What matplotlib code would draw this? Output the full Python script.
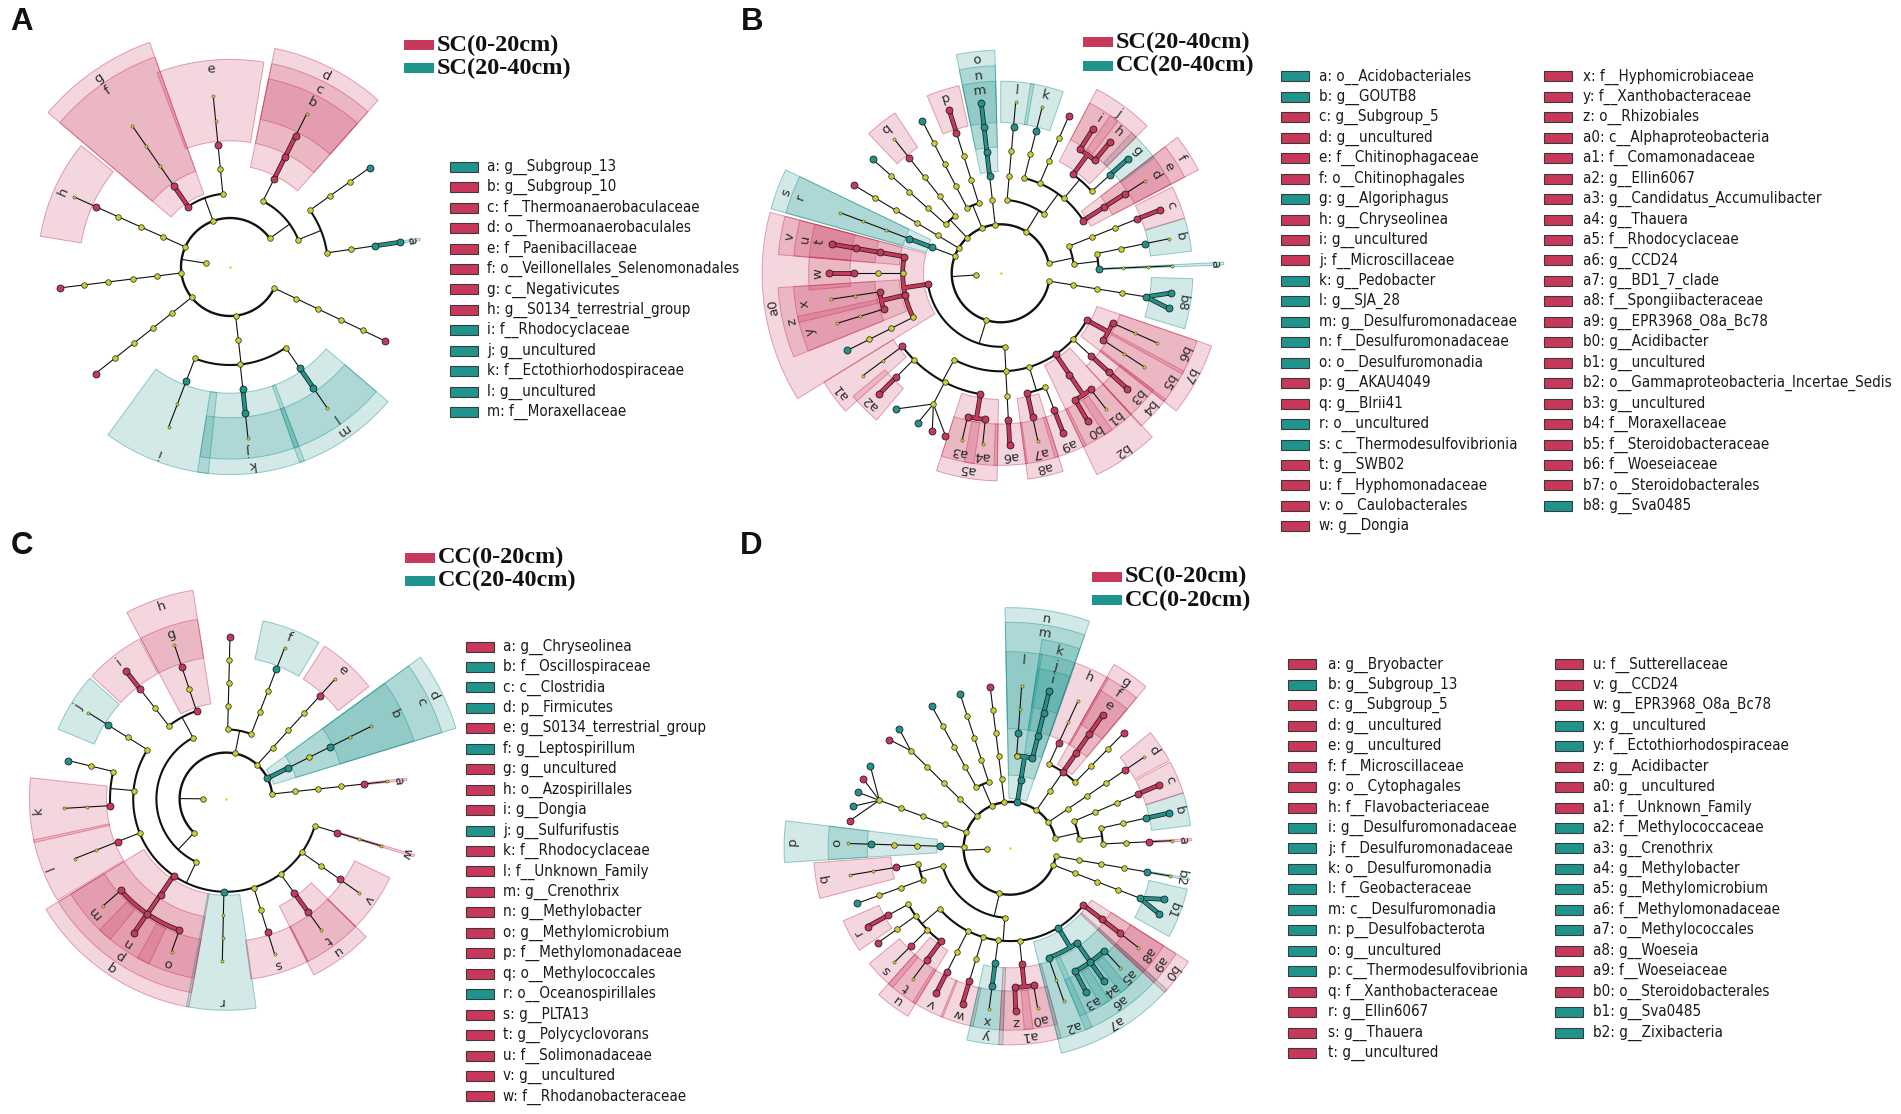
import numpy as np
import matplotlib
matplotlib.use("Agg")
import matplotlib.pyplot as plt
from matplotlib.patches import Polygon, Rectangle
from matplotlib.colors import to_rgb
from matplotlib.font_manager import FontProperties

RED = "#C8385A"
TEAL = "#1F948D"
YELLOW = "#CFCF2A"
COLS = {"r": RED, "g": TEAL, "y": YELLOW}

# ---------------- data ----------------
# leaves: (angle in degrees, path phylum.class.order.family.genus.species, colour per level)
A_groups = ["SC(0-20cm)", "SC(20-40cm)"]
A_leaves = [
    (8.3, "1.1.1.1.1.1", "yyyygg"), (35.4, "1.1.2.1.1.1", "yyyyyg"),
    (63.4, "1.2.1.1.1.1", "yyrrry"), (95.6, "2.1.1.1.1.1", "yyyryy"),
    (124.7, "2.2.1.1.1.1", "yrryyy"), (155.8, "3.1.1.1.1.1", "yyyyry"),
    (187.0, "4.1.1.1.1.1", "yyyyyr"), (218.4, "5.1.1.1.1.1", "yyyyyr"),
    (249.0, "6.1.1.1.1.1", "yyygyy"), (276.0, "6.1.2.1.1.1", "yyyggy"),
    (304.6, "6.1.3.1.1.1", "yyyggy"), (334.5, "7.1.1.1.1.1", "yyyyyr"),
]
A_labels = {"a": "1.1.1.1.1", "b": "1.2.1.1.1", "c": "1.2.1.1", "d": "1.2.1",
            "e": "2.1.1.1", "f": "2.2.1", "g": "2.2", "h": "3.1.1.1.1",
            "i": "6.1.1.1", "j": "6.1.2.1.1", "k": "6.1.2.1", "l": "6.1.3.1.1",
            "m": "6.1.3.1"}
A_names = ["a: g__Subgroup_13", "b: g__Subgroup_10", "c: f__Thermoanaerobaculaceae",
           "d: o__Thermoanaerobaculales", "e: f__Paenibacillaceae",
           "f: o__Veillonellales_Selenomonadales", "g: c__Negativicutes",
           "h: g__S0134_terrestrial_group", "i: f__Rhodocyclaceae", "j: g__uncultured",
           "k: f__Ectothiorhodospiraceae", "l: g__uncultured", "m: f__Moraxellaceae"]

B_groups = ["SC(20-40cm)", "CC(20-40cm)"]
B_leaves = [
    (2.5, "1.1.1.1.1.1", "yygyyy"), (11.6, "1.1.2.1.1.1", "yyyygy"),
    (21.7, "1.2.1.1.1.1", "yyyyrr"), (32.6, "2.1.1.1.1.1", "yyrrry"),
    (42.0, "2.1.2.1.1.1", "yyyygg"), (50.2, "2.1.2.2.1.1", "yyyrrr"),
    (57.4, "2.1.2.2.2.1", "yyyrrr"), (66.6, "2.1.3.1.1.1", "yyyyyr"),
    (76.0, "2.1.4.1.1.1", "yyyygy"), (85.0, "2.2.1.1.1.1", "yyyygy"),
    (96.5, "3.1.1.1.1.1", "yygggg"), (107.5, "4.1.1.1.1.1", "yyyyrr"),
    (117.2, "4.2.1.1.1.1", "yyyyyg"), (128.4, "5.1.1.1.1.1", "yyyyry"),
    (138.3, "5.2.1.1.1.1", "yyyyyg"), (149.0, "6.1.1.1.1.1", "yyyyyr"),
    (159.3, "7.1.1.1.1.1", "yggyyy"), (170.2, "8.1.1.1.1.1", "yrrrrr"),
    (180.0, "8.1.2.1.1.1", "yryyrr"), (188.7, "8.1.3.1.1.1", "yrrryy"),
    (197.0, "8.1.3.2.1.1", "yrrryy"), (206.7, "8.1.4.1.1.1", "yryyyg"),
    (216.6, "8.2.1.1.1.1", "yyyryy"), (224.8, "8.2.1.2.1.1", "yyyyrr"),
    (232.3, "8.2.1.3.1.1", "yyyyyg"), (241.0, "8.2.1.3.1.2", "yyyyyg"),
    (246.5, "8.2.1.3.1.3", "yyyyyr"), (251.2, "8.2.1.3.1.4", "yyyyyr"),
    (257.0, "8.2.1.4.1.1", "yyyrry"), (264.0, "8.2.1.4.2.1", "yyyrry"),
    (273.0, "8.2.2.1.1.1", "yyyyrr"), (282.5, "8.2.3.1.1.1", "yyyrry"),
    (291.4, "8.2.3.2.1.1", "yyyyrr"), (300.5, "8.2.4.1.1.1", "yyrrrr"),
    (307.8, "8.2.4.1.2.1", "yyrrry"), (317.6, "8.2.5.1.1.1", "yyyrrr"),
    (326.9, "8.2.6.1.1.1", "yyrryy"), (336.0, "8.2.6.2.1.1", "yyrryy"),
    (348.2, "9.1.1.1.1.1", "yyyygg"), (353.4, "9.1.1.1.1.2", "yyyygg"),
]
B_labels = {"a": "1.1.1", "b": "1.1.2.1.1", "c": "1.2.1.1.1", "d": "2.1.1.1.1",
            "e": "2.1.1.1", "f": "2.1.1", "g": "2.1.2.1.1", "h": "2.1.2.2.1",
            "i": "2.1.2.2.2", "j": "2.1.2.2", "k": "2.1.4.1.1", "l": "2.2.1.1.1",
            "m": "3.1.1.1.1", "n": "3.1.1.1", "o": "3.1.1", "p": "4.1.1.1.1",
            "q": "5.1.1.1.1", "r": "7.1.1", "s": "7.1", "t": "8.1.1.1.1",
            "u": "8.1.1.1", "v": "8.1.1", "w": "8.1.2.1.1", "x": "8.1.3.1",
            "y": "8.1.3.2", "z": "8.1.3", "a0": "8.1", "a1": "8.2.1.1",
            "a2": "8.2.1.2.1", "a3": "8.2.1.4.1", "a4": "8.2.1.4.2", "a5": "8.2.1.4",
            "a6": "8.2.2.1.1", "a7": "8.2.3.1.1", "a8": "8.2.3.1", "a9": "8.2.3.2.1",
            "b0": "8.2.4.1.1", "b1": "8.2.4.1.2", "b2": "8.2.4", "b3": "8.2.5.1.1",
            "b4": "8.2.5.1", "b5": "8.2.6.1", "b6": "8.2.6.2", "b7": "8.2.6",
            "b8": "9.1.1.1.1"}
B_names1 = ["a: o__Acidobacteriales", "b: g__GOUTB8", "c: g__Subgroup_5", "d: g__uncultured",
            "e: f__Chitinophagaceae", "f: o__Chitinophagales", "g: g__Algoriphagus",
            "h: g__Chryseolinea", "i: g__uncultured", "j: f__Microscillaceae",
            "k: g__Pedobacter", "l: g__SJA_28", "m: g__Desulfuromonadaceae",
            "n: f__Desulfuromonadaceae", "o: o__Desulfuromonadia", "p: g__AKAU4049",
            "q: g__Blrii41", "r: o__uncultured", "s: c__Thermodesulfovibrionia",
            "t: g__SWB02", "u: f__Hyphomonadaceae", "v: o__Caulobacterales", "w: g__Dongia"]
B_names2 = ["x: f__Hyphomicrobiaceae", "y: f__Xanthobacteraceae", "z: o__Rhizobiales",
            "a0: c__Alphaproteobacteria", "a1: f__Comamonadaceae", "a2: g__Ellin6067",
            "a3: g__Candidatus_Accumulibacter", "a4: g__Thauera", "a5: f__Rhodocyclaceae",
            "a6: g__CCD24", "a7: g__BD1_7_clade", "a8: f__Spongiibacteraceae",
            "a9: g__EPR3968_O8a_Bc78", "b0: g__Acidibacter", "b1: g__uncultured",
            "b2: o__Gammaproteobacteria_Incertae_Sedis", "b3: g__uncultured",
            "b4: f__Moraxellaceae", "b5: f__Steroidobacteraceae", "b6: f__Woeseiaceae",
            "b7: o__Steroidobacterales", "b8: g__Sva0485"]

C_groups = ["CC(0-20cm)", "CC(20-40cm)"]
C_leaves = [
    (6.2, "1.1.1.1.1.1", "yyyyry"), (26.6, "2.1.1.1.1.1", "ggygyy"),
    (47.7, "3.1.1.1.1.1", "yyyyry"), (68.8, "4.1.1.1.1.1", "yyyygy"),
    (88.6, "4.2.1.1.1.1", "yyyyyr"), (108.5, "5.1.1.1.1.1", "yyryry"),
    (128.0, "5.1.2.1.1.1", "yyyyrr"), (147.9, "5.2.1.1.1.1", "yyyygy"),
    (166.3, "5.2.2.1.1.1", "yyyyyg"), (183.3, "5.2.2.2.1.1", "yyyryy"),
    (201.5, "5.2.3.1.1.1", "yyyryy"), (221.0, "5.2.4.1.1.1", "yyrrry"),
    (235.5, "5.2.4.1.2.1", "yyrrrr"), (250.4, "5.2.4.1.3.1", "yyrrry"),
    (268.7, "5.2.5.1.1.1", "yygyyy"), (287.4, "5.2.6.1.1.1", "yyyyry"),
    (306.0, "5.2.7.1.1.1", "yyyrry"), (324.8, "5.2.8.1.1.1", "yyyyry"),
    (343.2, "5.2.9.1.1.1", "yyyryy"),
]
C_labels = {"a": "1.1.1.1.1", "b": "2.1.1.1", "c": "2.1", "d": "2", "e": "3.1.1.1.1",
            "f": "4.1.1.1.1", "g": "5.1.1.1.1", "h": "5.1.1", "i": "5.1.2.1.1",
            "j": "5.2.1.1.1", "k": "5.2.2.2", "l": "5.2.3.1", "m": "5.2.4.1.1",
            "n": "5.2.4.1.2", "o": "5.2.4.1.3", "p": "5.2.4.1", "q": "5.2.4",
            "r": "5.2.5", "s": "5.2.6.1.1", "t": "5.2.7.1.1", "u": "5.2.7.1",
            "v": "5.2.8.1.1", "w": "5.2.9.1"}
C_names = ["a: g__Chryseolinea", "b: f__Oscillospiraceae", "c: c__Clostridia",
           "d: p__Firmicutes", "e: g__S0134_terrestrial_group", "f: g__Leptospirillum",
           "g: g__uncultured", "h: o__Azospirillales", "i: g__Dongia", "j: g__Sulfurifustis",
           "k: f__Rhodocyclaceae", "l: f__Unknown_Family", "m: g__Crenothrix",
           "n: g__Methylobacter", "o: g__Methylomicrobium", "p: f__Methylomonadaceae",
           "q: o__Methylococcales", "r: o__Oceanospirillales", "s: g__PLTA13",
           "t: g__Polycyclovorans", "u: f__Solimonadaceae", "v: g__uncultured",
           "w: f__Rhodanobacteraceae"]

D_groups = ["SC(0-20cm)", "CC(0-20cm)"]
D_leaves = [
    (2.7, "1.1.1.1.1.1", "yyyyry"), (12.5, "1.1.2.1.1.1", "yyyygg"),
    (23.0, "1.2.1.1.1.1", "yyyyrr"), (34.2, "2.1.1.1.1.1", "yyyyry"),
    (45.4, "3.1.1.1.1.1", "yyyyyr"), (55.2, "3.1.2.1.1.1", "yyrrrr"),
    (65.2, "3.1.3.1.1.1", "yyyryy"), (76.0, "4.1.1.1.1.1", "gggggg"),
    (85.9, "4.1.2.1.1.1", "ggygyy"), (97.0, "5.1.1.1.1.1", "yyyyyr"),
    (107.9, "6.1.1.1.1.1", "yyyyyg"), (118.8, "6.2.1.1.1.1", "yyyyyg"),
    (132.9, "7.1.1.1.1.1", "yyyyyg"), (138.0, "7.1.1.1.1.2", "yyyyyr"),
    (149.4, "8.1.1.1.1.1", "yyyyyg"), (154.7, "8.1.1.1.1.2", "yyyyyr"),
    (159.8, "8.1.1.1.1.3", "yyyyyg"), (165.0, "8.1.1.1.1.4", "yyyyyg"),
    (170.2, "8.1.1.1.1.5", "yyyyyr"), (178.3, "9.1.1.1.1.1", "ygyygy"),
    (189.5, "10.1.1.1.1.1", "yyyryy"), (199.8, "10.1.2.1.1.1", "yyyyyg"),
    (208.8, "10.2.1.1.1.1", "yyyyrr"), (215.6, "10.2.1.2.1.1", "yyyyyr"),
    (224.6, "10.2.1.3.1.1", "yyyyry"), (233.4, "10.2.1.4.1.1", "yyyrry"),
    (243.0, "10.2.2.1.1.1", "yyyyrr"), (253.0, "10.2.3.1.1.1", "yyyyrr"),
    (262.6, "10.2.4.1.1.1", "yyyggy"), (272.0, "10.2.5.1.1.1", "yyyrrr"),
    (279.8, "10.2.5.1.2.1", "yyyrry"), (289.4, "10.2.6.1.1.1", "yyggyy"),
    (297.9, "10.2.6.2.1.1", "yygggg"), (305.3, "10.2.6.2.2.1", "yygggg"),
    (312.7, "10.2.6.2.3.1", "yygggy"), (322.3, "10.2.7.1.1.1", "yyrrry"),
    (336.3, "11.1.1.1.1.1", "yyyygg"), (341.7, "11.1.1.1.1.2", "yyyygg"),
    (350.2, "12.1.1.1.1.1", "yyyygy"),
]
D_labels = {"a": "1.1.1.1.1", "b": "1.1.2.1.1", "c": "1.2.1.1.1", "d": "2.1.1.1.1",
            "e": "3.1.2.1.1", "f": "3.1.2.1", "g": "3.1.2", "h": "3.1.3.1",
            "i": "4.1.1.1.1", "j": "4.1.1.1", "k": "4.1.1", "l": "4.1.2.1", "m": "4.1",
            "n": "4", "o": "9.1.1.1.1", "p": "9.1", "q": "10.1.1.1", "r": "10.2.1.1.1",
            "s": "10.2.1.3.1", "t": "10.2.1.4.1", "u": "10.2.1.4", "v": "10.2.2.1.1",
            "w": "10.2.3.1.1", "x": "10.2.4.1.1", "y": "10.2.4.1", "z": "10.2.5.1.1",
            "a0": "10.2.5.1.2", "a1": "10.2.5.1", "a2": "10.2.6.1", "a3": "10.2.6.2.1",
            "a4": "10.2.6.2.2", "a5": "10.2.6.2.3", "a6": "10.2.6.2", "a7": "10.2.6",
            "a8": "10.2.7.1.1", "a9": "10.2.7.1", "b0": "10.2.7", "b1": "11.1.1.1.1",
            "b2": "12.1.1.1.1"}
D_names1 = ["a: g__Bryobacter", "b: g__Subgroup_13", "c: g__Subgroup_5", "d: g__uncultured",
            "e: g__uncultured", "f: f__Microscillaceae", "g: o__Cytophagales",
            "h: f__Flavobacteriaceae", "i: g__Desulfuromonadaceae", "j: f__Desulfuromonadaceae",
            "k: o__Desulfuromonadia", "l: f__Geobacteraceae", "m: c__Desulfuromonadia",
            "n: p__Desulfobacterota", "o: g__uncultured", "p: c__Thermodesulfovibrionia",
            "q: f__Xanthobacteraceae", "r: g__Ellin6067", "s: g__Thauera", "t: g__uncultured"]
D_names2 = ["u: f__Sutterellaceae", "v: g__CCD24", "w: g__EPR3968_O8a_Bc78", "x: g__uncultured",
            "y: f__Ectothiorhodospiraceae", "z: g__Acidibacter", "a0: g__uncultured",
            "a1: f__Unknown_Family", "a2: f__Methylococcaceae", "a3: g__Crenothrix",
            "a4: g__Methylobacter", "a5: g__Methylomicrobium", "a6: f__Methylomonadaceae",
            "a7: o__Methylococcales", "a8: g__Woseia".replace("Woseia", "Woeseia"),
            "a9: f__Woeseiaceae", "b0: o__Steroidobacterales", "b1: g__Sva0485",
            "b2: g__Zixibacteria"]

# ---------------- drawing helpers ----------------
def build(leaves):
    nodes = {"": dict(level=0, color="y", angs=[], kids=[])}
    for ang, path, cols in leaves:
        parts = path.split(".")
        nodes[""]["angs"].append(ang)
        parent = ""
        for i, c in enumerate(cols):
            key = ".".join(parts[:i + 1])
            if key not in nodes:
                nodes[key] = dict(level=i + 1, color="y", angs=[], kids=[])
                nodes[parent]["kids"].append(key)
            nodes[key]["angs"].append(ang)
            if c != "y":
                nodes[key]["color"] = c
            parent = key
    for nd in nodes.values():
        nd["ang"] = float(np.mean(nd["angs"]))
    return nodes


def xy(cx, cy, r, a):
    t = np.radians(a)
    return cx + r * np.cos(t), cy - r * np.sin(t)


def arc(cx, cy, r, a1, a2):
    t = np.linspace(a1, a2, max(2, int(abs(a2 - a1) * 2) + 2))
    return xy(cx, cy, r, t)


def sector(cx, cy, r1, r2, a1, a2):
    xo, yo = arc(cx, cy, r2, a1, a2)
    xi, yi = arc(cx, cy, r1, a2, a1)
    return np.column_stack([np.r_[xo, xi], np.r_[yo, yi]])


def stroke(ax, xs, ys, color, lw):
    if color is None:
        ax.plot(xs, ys, color="#111111", lw=lw, zorder=3, solid_capstyle="round")
    else:
        ax.plot(xs, ys, color="#2a1a1a", lw=3.4, zorder=3.1, solid_capstyle="round")
        ax.plot(xs, ys, color=COLS[color], lw=2.3, zorder=3.2, solid_capstyle="round")


def draw_tree(ax, nodes, labels, cx, cy, s, pad, thin):
    R = lambda L: s * (L + 1)
    # shaded clades
    for let, key in labels.items():
        nd = nodes[key]
        L = nd["level"]
        rgb = to_rgb(COLS[nd["color"]])
        if let in thin:
            a1, a2 = nd["ang"] - 0.35, nd["ang"] + 0.35
        else:
            a1, a2 = min(nd["angs"]) - pad, max(nd["angs"]) + pad
        r_in = R(L) + 0.15 * s
        r_out = s * (7.84 + (5 - L) * 0.633)
        ax.add_patch(Polygon(sector(cx, cy, r_in, r_out, a1, a2), closed=True,
                             fc=rgb + (0.2,), ec=rgb + (0.45,), lw=0.7, zorder=1))
        am = 0.5 * (a1 + a2)
        lx, ly = xy(cx, cy, r_out - 0.36 * s, am)
        ax.text(lx, ly, let, rotation=am - 90, rotation_mode="anchor", ha="center",
                va="center", fontsize=9.5, color="#2a2a2a", zorder=6)
    # branches
    for key, nd in nodes.items():
        kids = nd["kids"]
        if not kids:
            continue
        L = nd["level"]
        pc = nd["color"] if nd["color"] != "y" else None
        p0 = xy(cx, cy, R(L), nd["ang"])
        if len(kids) == 1 or L + 1 == 6:
            for k in kids:
                q = xy(cx, cy, R(L + 1), nodes[k]["ang"])
                c = pc if (pc and nodes[k]["color"] == pc) else None
                stroke(ax, [p0[0], q[0]], [p0[1], q[1]], c, 0.8)
        else:
            p1 = xy(cx, cy, R(L + 1), nd["ang"])
            stroke(ax, [p0[0], p1[0]], [p0[1], p1[1]], pc, 0.8)
            angs = [nodes[k]["ang"] for k in kids]
            xs, ys = arc(cx, cy, R(L + 1), min(angs), max(angs))
            stroke(ax, xs, ys, pc, 1.7 if L == 0 else 1.5)
    # nodes
    for key, nd in nodes.items():
        px, py = xy(cx, cy, R(nd["level"]), nd["ang"])
        if nd["color"] != "y":
            d, ew = 5.0, 0.6
        else:
            pre = key.split(".")
            anc = any(nodes[".".join(pre[:i])]["color"] != "y" for i in range(1, len(pre))) if key else False
            desc = any(nodes[k]["color"] != "y" for k in nodes if k.startswith(key + "."))
            d, ew = (2.3, 0.3) if (anc and not desc) else (4.0, 0.5)
        ax.scatter([px], [py], s=d * d, c=COLS[nd["color"]], edgecolors="#222222",
                   linewidths=ew, zorder=5)
    ax.scatter([cx], [cy], s=0.6, c=YELLOW, zorder=5)


def draw_titles(ax, groups, bx, ys):
    for g, y, c in zip(groups, ys, [RED, TEAL]):
        ax.add_patch(Rectangle((bx, y - 5), 30, 10, fc=c, ec="none", zorder=5))
        ax.text(bx + 33, y, g, fontsize=17.5, fontweight="bold", family="Liberation Serif",
                ha="left", va="center", color="#111111", zorder=6)


def draw_legend(ax, nodes, labels, names, bx, tx, y0, fp):
    for i, nm in enumerate(names):
        let = nm.split(":")[0]
        y = y0 + i * 20.45
        ax.add_patch(Rectangle((bx, y - 5), 28, 10, fc=COLS[nodes[labels[let]]["color"]],
                               ec="#3a3a3a", lw=0.8, zorder=5))
        ax.text(tx, y, nm, fontproperties=fp, ha="left", va="center", color="#1a1a1a", zorder=6)


# ---------------- figure ----------------
fig = plt.figure(figsize=(19.01, 11.14), dpi=100)
ax = fig.add_axes([0, 0, 1, 1])
ax.set_xlim(0, 1901)
ax.set_ylim(1114, 0)
ax.axis("off")

# legend font: fit the longest entry to its width in the reference
fp = FontProperties(family="DejaVu Sans", stretch="condensed", size=10)
renderer = fig.canvas.get_renderer()
probe = ax.text(0, 0, "b2: o__Gammaproteobacteria_Incertae_Sedis", fontproperties=fp)
w = probe.get_window_extent(renderer).width
probe.remove()
fp = FontProperties(family="DejaVu Sans", stretch="condensed", size=10 * 309.0 / w)

nA, nB, nC, nD = build(A_leaves), build(B_leaves), build(C_leaves), build(D_leaves)

draw_tree(ax, nA, A_labels, 230, 267, 24.5, 15.0, {"a"})
draw_tree(ax, nB, B_labels, 1000.7, 273.3, 24.5, 5.0, {"a"})
draw_tree(ax, nC, C_labels, 226, 799, 23.2, 9.5, {"a", "w"})
draw_tree(ax, nD, D_labels, 1010, 848.3, 23.2, 5.3, {"a", "b2"})

draw_titles(ax, A_groups, 404, [45, 68])
draw_titles(ax, B_groups, 1083, [42, 65.5])
draw_titles(ax, C_groups, 405, [557.8, 580.6])
draw_titles(ax, D_groups, 1092, [576.5, 600])

draw_legend(ax, nA, A_labels, A_names, 450, 487, 166.7, fp)
draw_legend(ax, nB, B_labels, B_names1, 1281, 1319, 76.4, fp)
draw_legend(ax, nB, B_labels, B_names2, 1544, 1583, 76.4, fp)
draw_legend(ax, nC, C_labels, C_names, 466, 503, 646.5, fp)
draw_legend(ax, nD, D_labels, D_names1, 1288, 1328, 664.4, fp)
draw_legend(ax, nD, D_labels, D_names2, 1555, 1593, 664.4, fp)

for let, x, y in [("A", 21.5, 21.5), ("B", 752.5, 21.5), ("C", 21.5, 546), ("D", 751.5, 546)]:
    ax.text(x, y, let, fontsize=22.5, fontweight="bold", family="Liberation Sans",
            ha="center", va="center", color="#111111")

fig.savefig("out.png", dpi=100)
